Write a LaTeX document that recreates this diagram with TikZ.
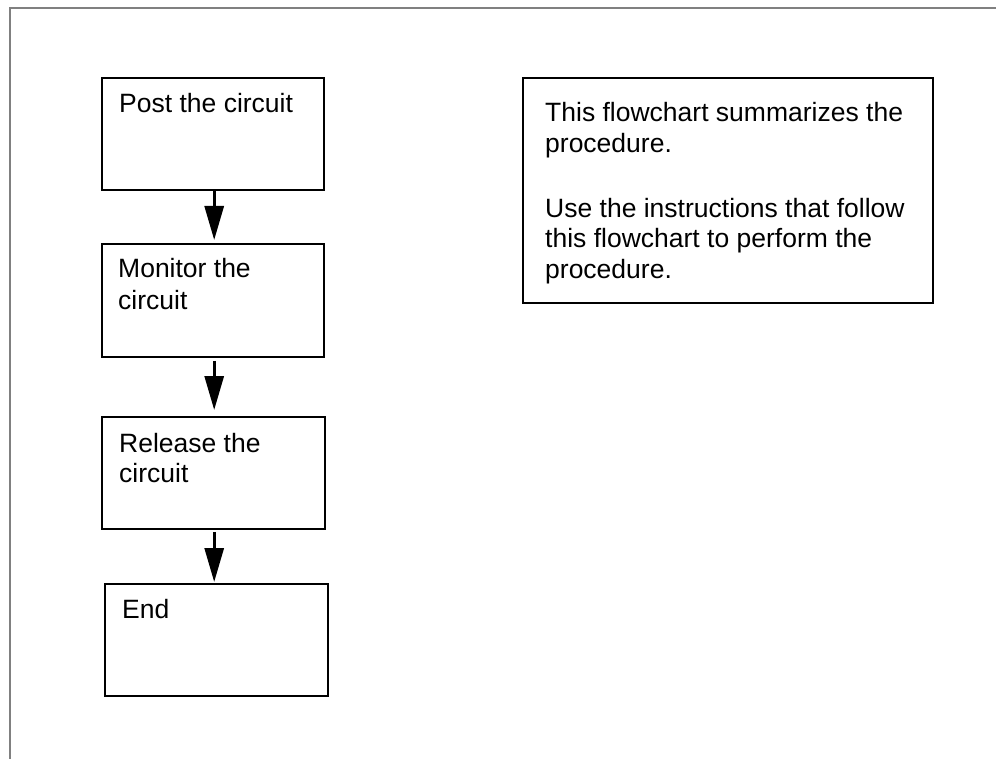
\documentclass[tikz,border=0pt]{standalone}
\usepackage{fontspec}
\setmainfont{Liberation Sans}
\usetikzlibrary{arrows.meta}
\begin{document}
\begin{tikzpicture}[x=1pt,y=-1pt,
  frame/.style={draw=black!50, line width=2pt},
  stepbox/.style={draw, line width=1.8pt, rectangle, inner sep=0pt, anchor=north west},
  boxtext/.style={anchor=north west, inner sep=0pt, align=left,
    font=\fontsize{26.5}{32}\selectfont},
  flow/.style={line width=3pt, -{Triangle[length=34pt,width=19pt]}},
]
\useasboundingbox (0,0) rectangle (996,759);

% page frame (top and left edges only)
\draw[frame] (10,759) -- (10,8) -- (996,8);

% flowchart boxes
\node[stepbox, minimum width=222pt, minimum height=112pt] (b1) at (101,77) {};
\node[stepbox, minimum width=222pt, minimum height=113pt] (b2) at (101,243) {};
\node[stepbox, minimum width=223pt, minimum height=112pt] (b3) at (101,416) {};
\node[stepbox, minimum width=223pt, minimum height=112pt] (b4) at (104,583) {};

% note box
\node[stepbox, minimum width=410pt, minimum height=225pt] (note) at (522,77) {};

% box texts
\node[boxtext] (t1) at (119,93.3) {Post the circuit};
\node[boxtext, font=\fontsize{26.5}{32.5}\selectfont] (t2) at (118,257.6) {Monitor the\\circuit};
\node[boxtext, font=\fontsize{26.5}{30}\selectfont] (t3) at (119,432.6) {Release the\\circuit};
\node[boxtext] (t4) at (122,598.7) {End};
\node[boxtext, font=\fontsize{26.5}{30.5}\selectfont] (tnote) at (545,102.3)
  {This flowchart summarizes the\\procedure.\\[34.5pt]Use the instructions that follow\\this flowchart to perform the\\procedure.};

% connectors
\draw[flow, shorten >=3pt] ([xshift=1.3pt]b1.south) -- ([xshift=1.3pt]b1.south |- b2.north);
\draw[flow, shorten <=3pt, shorten >=6pt] ([xshift=1.3pt]b2.south) -- ([xshift=1.3pt]b2.south |- b3.north);
\draw[flow, shorten <=2pt, shorten >=1pt] ([xshift=0.8pt]b3.south) -- ([xshift=0.8pt]b3.south |- b4.north);
\end{tikzpicture}
\end{document}
